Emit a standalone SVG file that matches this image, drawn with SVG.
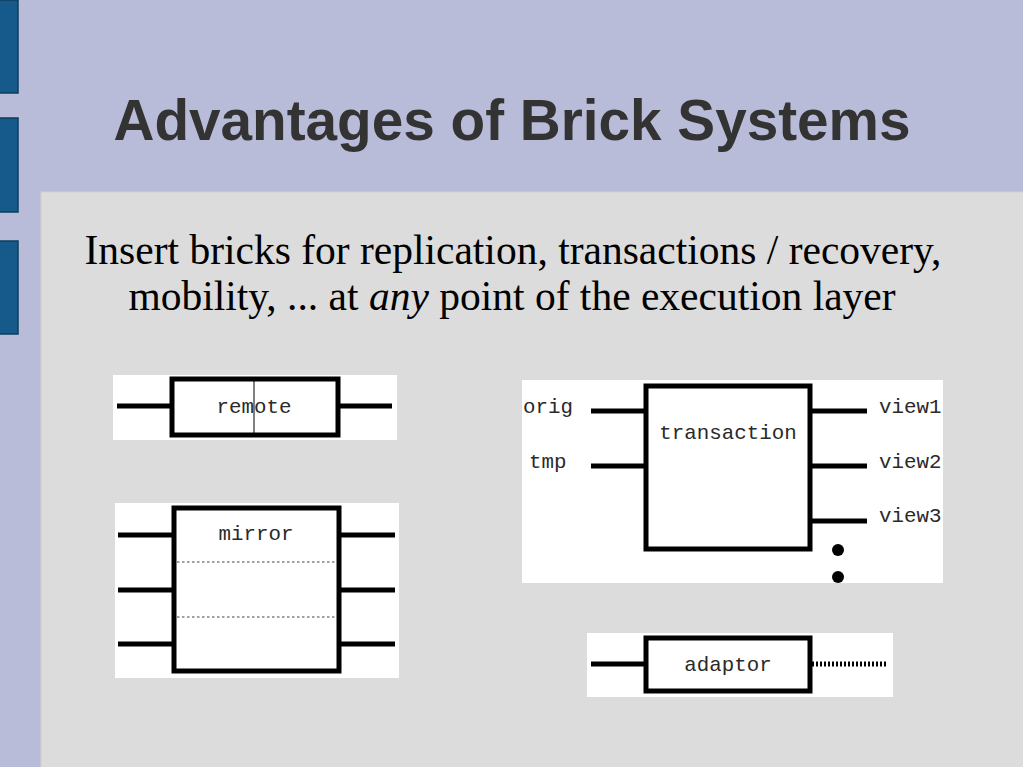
<svg xmlns="http://www.w3.org/2000/svg" width="1023" height="767" viewBox="0 0 1023 767">
<style>
.bar{fill:#155a8a;stroke:#0e3c5e;stroke-width:1.5}
.panel{fill:#ffffff}
.box{fill:#ffffff;stroke:#000;stroke-width:5}
.wire{stroke:#000;stroke-width:5;fill:none}
.mono{font-family:"Liberation Mono","DejaVu Sans Mono",monospace;font-size:20.8px;fill:#2a2a2a}
.dots{stroke:#444;stroke-width:1.2;stroke-dasharray:2.5 2.5;fill:none}
</style>
<rect x="0" y="0" width="1023" height="767" fill="#b9bcd9"/>
<rect class="bar" x="-2" y="0" width="20" height="93"/>
<rect class="bar" x="-2" y="118" width="20" height="94"/>
<rect class="bar" x="-2" y="241" width="20" height="93"/>
<rect x="41" y="192" width="984" height="577" fill="#dcdcdc" stroke="#d0d0d0" stroke-width="1"/>
<text x="512" y="140" text-anchor="middle" font-family="Liberation Sans, Arial, sans-serif" font-weight="bold" font-size="56.7" fill="#333333">Advantages of Brick Systems</text>
<text x="513" y="264" text-anchor="middle" font-family="Liberation Serif, Times New Roman, serif" font-size="41.5" fill="#000">Insert bricks for replication, transactions / recovery,</text>
<text x="512" y="310" text-anchor="middle" font-family="Liberation Serif, Times New Roman, serif" font-size="41.5" fill="#000">mobility, ... at <tspan font-style="italic">any</tspan> point of the execution layer</text>

<g id="remote">
<rect class="panel" x="113" y="375" width="284" height="65"/>
<rect class="box" x="172" y="379" width="166" height="56"/>
<line x1="254" y1="381" x2="254" y2="433" stroke="#000" stroke-width="1"/>
<text class="mono" x="254" y="413" text-anchor="middle">remote</text>
</g>

<g id="mirror">
<rect class="panel" x="115" y="503" width="284" height="175"/>
<rect class="box" x="174" y="508" width="165" height="163"/>
<line class="dots" x1="177" y1="562" x2="335" y2="562"/>
<line class="dots" x1="177" y1="617" x2="335" y2="617"/>
<text class="mono" x="256" y="540" text-anchor="middle">mirror</text>
</g>

<g id="transaction">
<rect class="panel" x="522" y="380" width="421" height="203"/>
<rect class="box" x="646" y="386" width="164" height="163"/>
<text class="mono" x="728" y="439" text-anchor="middle">transaction</text>
<text class="mono" x="523" y="413">orig</text>
<text class="mono" x="529" y="468">tmp</text>
<text class="mono" x="879" y="413">view1</text>
<text class="mono" x="879" y="468">view2</text>
<text class="mono" x="879" y="522">view3</text>
<circle cx="838" cy="550" r="6" fill="#000"/>
<circle cx="838" cy="577" r="6" fill="#000"/>
</g>

<g id="adaptor">
<rect class="panel" x="587" y="633" width="306" height="64"/>
<rect class="box" x="646" y="638" width="164" height="53"/>
<text class="mono" x="728" y="671" text-anchor="middle">adaptor</text>
</g>

<g id="connectors">
<line class="wire" x1="117" y1="406" x2="172" y2="406"/>
<line class="wire" x1="338" y1="406" x2="392" y2="406"/>
<line class="wire" x1="118" y1="535" x2="174" y2="535"/>
<line class="wire" x1="118" y1="590" x2="174" y2="590"/>
<line class="wire" x1="118" y1="644" x2="174" y2="644"/>
<line class="wire" x1="339" y1="535" x2="395" y2="535"/>
<line class="wire" x1="339" y1="590" x2="395" y2="590"/>
<line class="wire" x1="339" y1="644" x2="395" y2="644"/>
<line class="wire" x1="591" y1="411" x2="646" y2="411"/>
<line class="wire" x1="591" y1="466" x2="646" y2="466"/>
<line class="wire" x1="810" y1="411" x2="867" y2="411"/>
<line class="wire" x1="810" y1="466" x2="867" y2="466"/>
<line class="wire" x1="810" y1="521" x2="867" y2="521"/>
<line class="wire" x1="591" y1="664" x2="646" y2="664"/>
<line x1="812" y1="664" x2="888" y2="664" stroke="#000" stroke-width="5" stroke-dasharray="2 2"/>
</g>
</svg>
